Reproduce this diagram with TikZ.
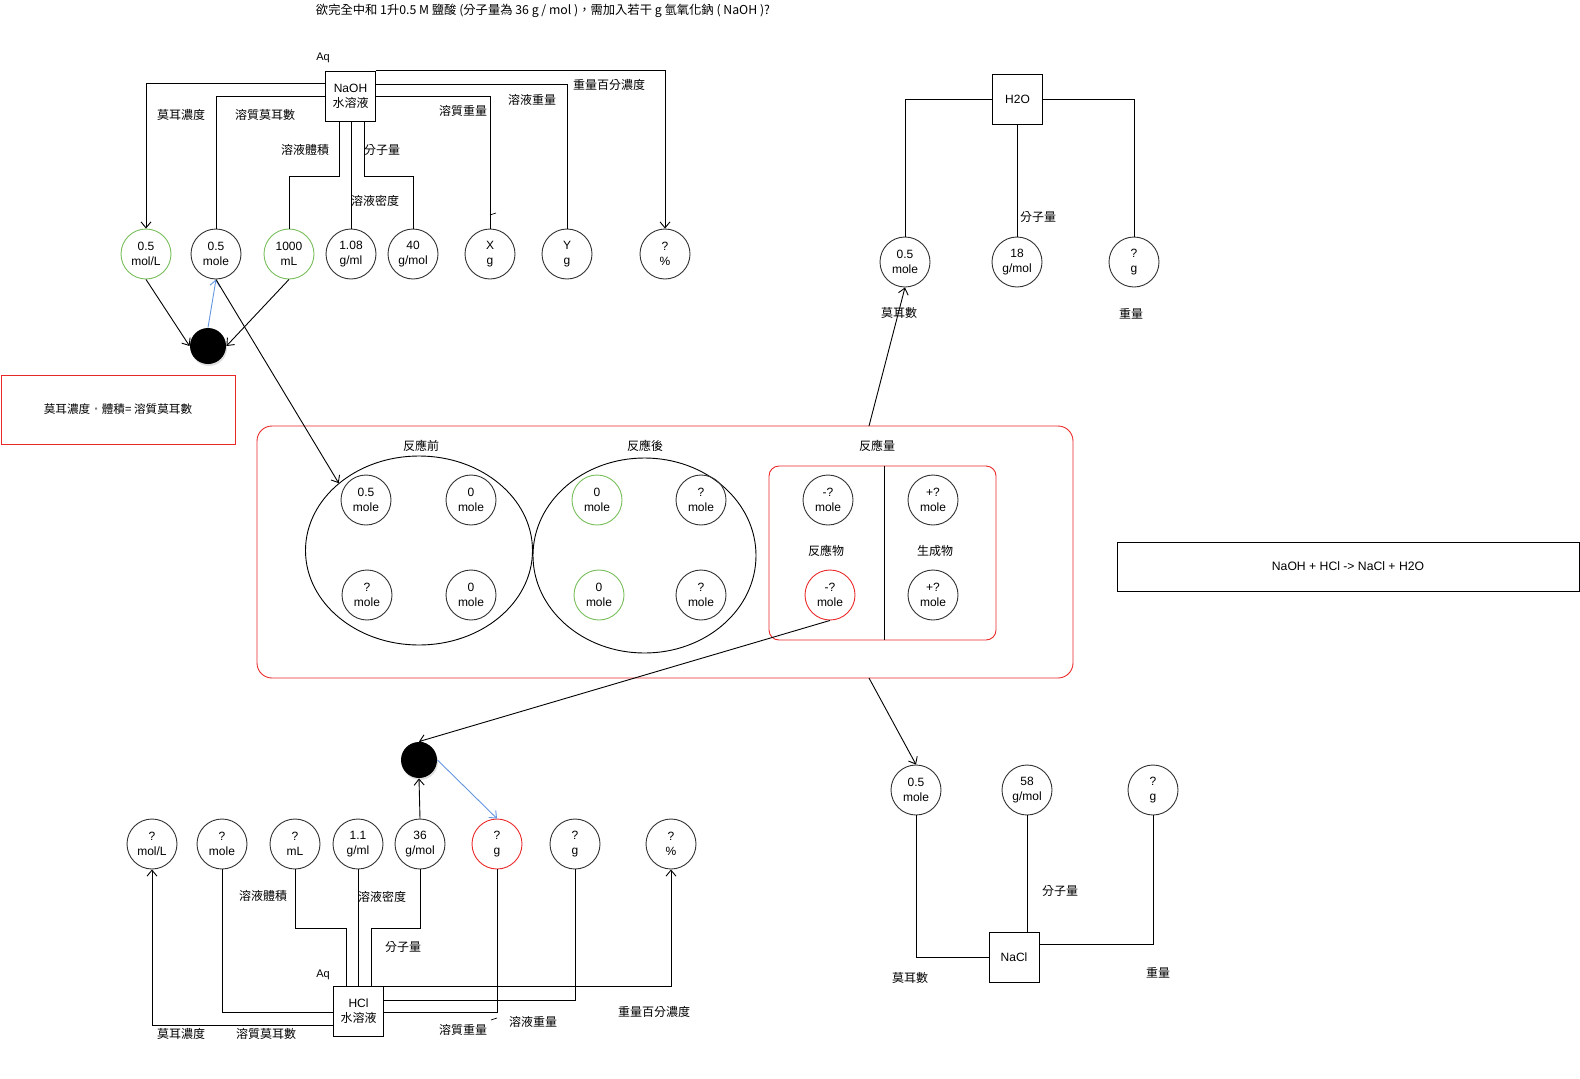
\documentclass[tikz,border=0pt]{standalone}
\usepackage{fontspec}
\setmainfont{Liberation Sans}
\newfontfamily\cjk{Noto Sans CJK TC}
\usetikzlibrary{arrows.meta,shapes.geometric,shadows}
\definecolor{grn}{RGB}{120,190,90}
\definecolor{rd}{RGB}{235,40,40}
\definecolor{blu}{RGB}{100,150,225}
\definecolor{circ}{RGB}{50,50,50}
\begin{document}
\begin{tikzpicture}[x=1pt,y=-1pt,line width=0.9pt,
  every node/.style={font=\fontsize{12}{14}\selectfont},
  val/.style={circle,draw=circ,minimum size=50pt,inner sep=0pt,align=center,font=\fontsize{12}{15}\selectfont},
  gval/.style={val,draw=grn},
  rval/.style={val,draw=rd},
  sbox/.style={draw,minimum width=50pt,minimum height=50pt,inner sep=0pt,align=center,font=\fontsize{12}{15}\selectfont},
  lbl/.style={inner sep=0pt,font=\cjk\fontsize{12}{14}\selectfont},
  arr/.style={-{Straight Barb[length=6pt,width=10pt]}},
  bigdot/.style={circle,fill=black,minimum size=36pt,inner sep=0pt,drop shadow={shadow xshift=1pt,shadow yshift=-2pt,opacity=0.25}},
]
\fill[white] (0,0) rectangle (1580,1079);
\useasboundingbox (0,0) rectangle (1580,1079);

% title
\node[lbl,font=\cjk\fontsize{12.3}{14}\selectfont] (title) at (543,11) {欲完全中和 1升0.5 M 鹽酸 (分子量為 36 g / mol )，需加入若干 g 氫氧化鈉 ( NaOH )?};

% ===== NaOH =====
\node[sbox] (naoh) at (350.5,96) {NaOH\\{\cjk 水溶液}};
\node[font=\fontsize{11}{13}\selectfont] (aq1) at (323,58) {Aq};
\node[gval] (a1) at (146,254) {0.5\\mol/L};
\node[val] (a2) at (216,254) {0.5\\mole};
\node[gval] (a3) at (289,254) {1000\\mL};
\node[val] (a4) at (351,254) {1.08\\g/ml};
\node[val] (a5) at (413,254) {40\\g/mol};
\node[val] (a6) at (490,254) {X\\g};
\node[val] (a7) at (567,254) {Y\\g};
\node[val] (a8) at (665,254) {?\\\%};

\draw[arr] (naoh.west |- 0,83) -| (a1.north);
\draw (naoh.west |- 0,96) -| (a2.north);
\draw (naoh.south -| 339,0) -- (339,176) -| (a3.north);
\draw (naoh.south -| a4.north) -- (a4.north);
\draw (naoh.south -| 364,0) -- (364,176) -| (a5.north);
\draw (naoh.east |- 0,96) -| (a6.north);
\draw (naoh.east |- 0,84) -| (a7.north);
\draw[arr] (naoh.north east) -| (a8.north);
\draw[line width=0.7pt] (490,215) -- (496,213);

\node[lbl] (la1) at (181,115) {莫耳濃度};
\node[lbl] (la2) at (265,115) {溶質莫耳數};
\node[lbl] (la3) at (305,150) {溶液體積};
\node[lbl] (la4) at (382,150) {分子量};
\node[lbl] (la5) at (375,201) {溶液密度};
\node[lbl] (la6) at (463,111) {溶質重量};
\node[lbl] (la7) at (532,100) {溶液重量};
\node[lbl] (la8) at (609,85) {重量百分濃度};

\node[bigdot] (d1) at (208,346) {};
\draw[arr] (a1.south) -- (d1.west);
\draw[arr] (a3.south) -- (d1.east);
\draw[arr,blu] (d1.north) -- (a2.south);

% left formula box
\node[draw=rd,minimum width=234pt,minimum height=69pt,inner sep=0pt,font=\cjk\fontsize{11.6}{13}\selectfont] (form) at (118,409.5) {莫耳濃度{\color{gray}·}體積= 溶質莫耳數};

% ===== reaction table =====
\node[draw=rd,rounded corners=15pt,minimum width=816pt,minimum height=252pt,inner sep=0pt] (big) at (665,552) {};
\node[ellipse,draw,minimum width=227pt,minimum height=189pt,inner sep=0pt] (e1) at (419,550.5) {};
\node[ellipse,draw,minimum width=223pt,minimum height=195pt,inner sep=0pt] (e2) at (644.5,555.5) {};
\node[lbl] (t1) at (421,446) {反應前};
\node[lbl] (t2) at (645,446) {反應後};
\node[lbl] (t3) at (877,446) {反應量};

\node[val] (b1) at (366,500) {0.5\\mole};
\node[val] (b2) at (471,500) {0\\mole};
\node[val] (b3) at (367,595) {?\\mole};
\node[val] (b4) at (471,595) {0\\mole};
\node[gval] (b5) at (597,500) {0\\mole};
\node[val] (b6) at (701,500) {?\\mole};
\node[gval] (b7) at (599,595) {0\\mole};
\node[val] (b8) at (701,595) {?\\mole};

\node[draw=rd,rounded corners=10pt,minimum width=227pt,minimum height=174pt,inner sep=0pt] (inner) at (882.5,553) {};
\draw (inner.north -| 884,0) -- (inner.south -| 884,0);
\node[val] (r1) at (828,500) {-?\\mole};
\node[val] (r2) at (933,500) {+?\\mole};
\node[rval] (r3) at (830,595) {-?\\mole};
\node[val] (r4) at (933,595) {+?\\mole};
\node[lbl] (t4) at (826,551) {反應物};
\node[lbl] (t5) at (935,551) {生成物};

\draw[arr] (a2.south) -- (e1.140);

% reaction equation
\node[draw,minimum width=462pt,minimum height=49pt,inner sep=0pt,font=\fontsize{12.2}{14}\selectfont] (rx) at (1348,566.5) {NaOH + HCl -> NaCl + H2O};

% ===== H2O =====
\node[sbox] (h2o) at (1017.5,99) {H2O};
\node[val] (h1) at (905,262) {0.5\\mole};
\node[val] (h2) at (1017,262) {18\\g/mol};
\node[val] (h3) at (1134,262) {?\\g};
\draw (h2o.west) -| (h1.north);
\draw (h2o.south -| h2.north) -- (h2.north);
\draw (h2o.east) -| (h3.north);
\node[lbl] (lh1) at (1038,217) {分子量};
\node[lbl] (lh2) at (899,313) {莫耳數};
\node[lbl] (lh3) at (1131,314) {重量};
\coordinate (bt) at (869,426);
\draw[arr] (bt) -- (h1.south);

% ===== NaCl =====
\node[val] (n1) at (916,790) {0.5\\mole};
\node[val] (n2) at (1027,790) {58\\g/mol};
\node[val] (n3) at (1153,790) {?\\g};
\node[sbox] (nacl) at (1014,957) {NaCl};
\draw (n1.south) |- (nacl.west);
\draw (n2.south) -- (nacl.north -| n2.south);
\draw (n3.south) |- (nacl.east |- 0,944);
\node[lbl] (ln1) at (1060,891) {分子量};
\node[lbl] (ln2) at (910,978) {莫耳數};
\node[lbl] (ln3) at (1158,973) {重量};
\coordinate (bb) at (869,678);
\draw[arr] (bb) -- (n1.north);

% ===== HCl =====
\node[sbox] (hcl) at (358.5,1011.5) {HCl\\{\cjk 水溶液}};
\node[font=\fontsize{11}{13}\selectfont] (aq2) at (323,975) {Aq};
\node[val] (c1) at (152,844) {?\\mol/L};
\node[val] (c2) at (222,844) {?\\mole};
\node[val] (c3) at (295,844) {?\\mL};
\node[val] (c4) at (358,844) {1.1\\g/ml};
\node[val] (c5) at (420,844) {36\\g/mol};
\node[rval] (c6) at (497,844) {?\\g};
\node[val] (c7) at (575,844) {?\\g};
\node[val] (c8) at (671,844) {?\\\%};

\draw[arr] (hcl.west |- 0,1025) -| (c1.south);
\draw (hcl.west |- 0,1012) -| (c2.south);
\draw (hcl.north -| 346,0) -- (346,928) -| (c3.south);
\draw (hcl.north -| c4.south) -- (c4.south);
\draw (hcl.north -| 371,0) -- (371,928) -| (c5.south);
\draw[arr] (hcl.north east) -| (c8.south);
\draw (hcl.east |- 0,1000) -| (c7.south);
\draw (hcl.east |- 0,1012) -| (c6.south);
\draw[line width=0.7pt] (491,1020) -- (497,1018);

\node[lbl] (lc1) at (181,1034) {莫耳濃度};
\node[lbl] (lc2) at (266,1034) {溶質莫耳數};
\node[lbl] (lc3) at (263,896) {溶液體積};
\node[lbl] (lc4) at (382,897) {溶液密度};
\node[lbl] (lc5) at (403,947) {分子量};
\node[lbl] (lc6) at (463,1030) {溶質重量};
\node[lbl] (lc7) at (533,1022) {溶液重量};
\node[lbl] (lc8) at (654,1012) {重量百分濃度};

\node[bigdot] (d2) at (419,760) {};
\draw[arr] (r3.south) -- (d2.north);
\draw[arr] (c5.north) -- (d2.south);
\draw[arr,blu] (d2.east) -- (c6.north);
\end{tikzpicture}
\end{document}
